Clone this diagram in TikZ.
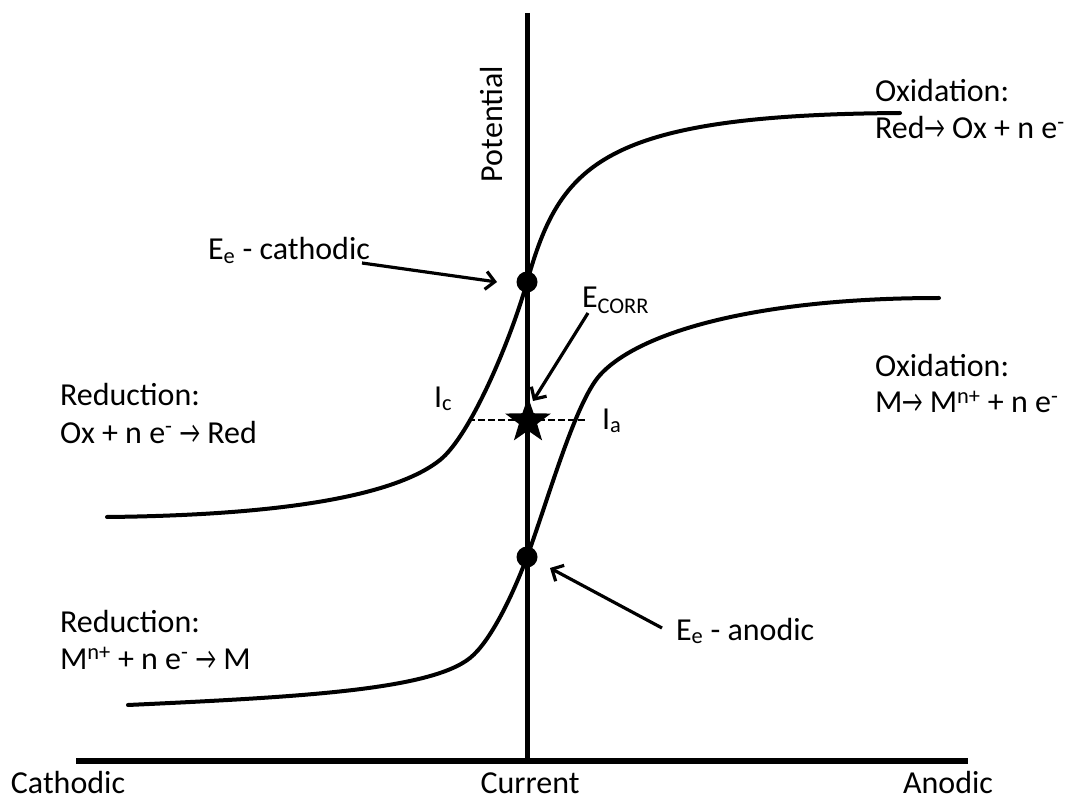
\documentclass[tikz,border=0pt]{standalone}
\usepackage{fontspec}
\usepackage{graphicx}
\setmainfont{Carlito}
\usetikzlibrary{arrows.meta,shapes.geometric}
\newcommand\rarr{\scalebox{0.7}[1]{→}}
\begin{document}
\begin{tikzpicture}[x=1pt,y=-1pt,
  txt/.style={inner sep=0pt,outer sep=0pt,anchor=base west,font=\fontsize{32}{38}\selectfont},
  axis/.style={line width=5pt},
  curve/.style={line width=4pt,line cap=round},
  pointer/.style={line width=3.2pt,-{Straight Barb[length=9pt,width=18pt]}},
  eqdot/.style={circle,fill=black,minimum size=21pt,inner sep=0pt},
  hair/.style={line width=2pt,dash pattern=on 7pt off 3pt}]
\useasboundingbox (0,0) rectangle (1066,802);
% axes
\coordinate (vtop) at (527,13);
\coordinate (vbot) at (527,761);
\coordinate (hl) at (76,761);
\coordinate (hr) at (968,761);
\draw[axis] (vtop) -- (vbot);
\draw[line width=6pt] (hl) -- (hr);
% axis labels
\node[txt,anchor=base] (cath) at (68,793) {Cathodic};
\node[txt,anchor=base] (curr) at (530,793) {Current};
\node[txt,anchor=base] (anod) at (948,793) {Anodic};
\node[txt,anchor=base,rotate=90] (pot) at (502,124) {Potential};
% equilibrium points
\node[eqdot] (ecat) at (527,282) {};
\node[eqdot] (eano) at (527,557) {};
% curves
\draw[curve] (107,517) .. controls (300,515) and (400,492) .. (440,460)
  .. controls (470,436) and (510,342) .. (ecat.center)
  .. controls (560,165) and (600,115) .. (900,113);
\draw[curve] (128,705) .. controls (300,697) and (430,690) .. (470,658)
  .. controls (490,642) and (512,597) .. (eano.center)
  .. controls (549,497) and (575,403) .. (600,375)
  .. controls (640,331) and (760,298) .. (939,298);
% corrosion current line and star
\coordinate (ic) at (468,420);
\coordinate (ia) at (586,420);
\draw[hair] (ic) -- (ia);
\node[star,star points=5,star point ratio=2.5,fill=black,minimum size=48pt,inner sep=0pt] (corr) at (528,421) {};
% labels
\node[txt] (lic) at (434,407) {I\textsubscript{c}};
\node[txt] (lia) at (602,429) {I\textsubscript{a}};
\node[txt] (lcat) at (208,260) {E\textsubscript{e} - cathodic};
\node[txt] (lcorr) at (582,308) {E\textsubscript{CORR}};
\node[txt] (lano) at (676,640) {E\textsubscript{e} - anodic};
% pointer arrows
\coordinate (t1) at (362,263);
\coordinate (h1) at (497,282);
\coordinate (t2) at (588,313);
\coordinate (h2) at (533,401);
\coordinate (t3) at (662,628);
\coordinate (h3) at (550,568);
\draw[pointer] (t1) -- (h1);
\draw[pointer] (t2) -- (h2);
\draw[pointer] (t3) -- (h3);
% reaction texts
\node[txt] (ox1a) at (875,102) {Oxidation:};
\node[txt] (ox1b) at (875,139) {Red\rarr\ Ox + n e\textsuperscript{-}};
\node[txt] (ox2a) at (875,377) {Oxidation:};
\node[txt] (ox2b) at (875,413) {M\rarr\ M\textsuperscript{n+} + n e\textsuperscript{-}};
\node[txt] (re1a) at (60,406) {Reduction:};
\node[txt] (re1b) at (60,443) {Ox + n e\textsuperscript{-} \rarr\ Red};
\node[txt] (re2a) at (60,632) {Reduction:};
\node[txt] (re2b) at (60,669) {M\textsuperscript{n+} + n e\textsuperscript{-} \rarr\ M};
\end{tikzpicture}
\end{document}
